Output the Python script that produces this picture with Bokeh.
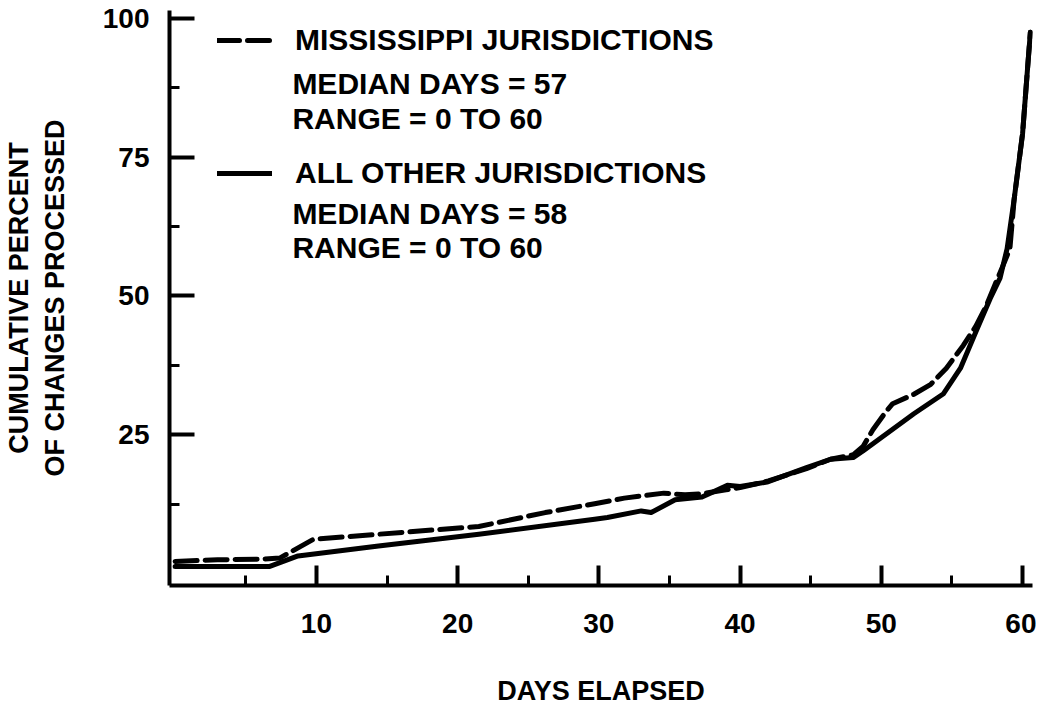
from bokeh.plotting import figure
from bokeh.models import Range1d, FixedTicker, Legend, LegendItem, ColumnDataSource
from bokeh.core.properties import value
from bokeh.embed import file_html
from bokeh.resources import INLINE

# ---- data ----
other_days = [0, 6.7, 8.7, 14.4, 21.5, 29.7, 30.6, 33.0, 33.7, 35.4, 37.3, 39.1, 40.0, 41.9,
              44.7, 46.4, 48.0, 48.7, 52.3, 54.4, 55.6, 56.7, 57.7, 58.4, 58.9, 59.4, 60.0,
              60.35, 60.55]
other_pct = [1.3, 1.3, 3.2, 5.0, 7.1, 9.8, 10.1, 11.3, 11.0, 13.3, 13.8, 15.9, 15.7, 16.5,
             19.1, 20.6, 20.9, 22.1, 28.8, 32.4, 37.0, 43.6, 49.5, 53.2, 58.5, 67.4, 79.3,
             91.0, 97.5]

miss_days = [0, 3, 6, 7.4, 9.8, 14.4, 21.5, 26.2, 29.7, 31.8, 34.6, 36.1, 37.3, 39.0, 40.0,
             42.0, 44.7, 46.4, 48.0, 48.7, 49.4, 50.3, 50.8, 52.3, 53.5, 54.6, 55.8, 56.7,
             57.4, 58.1, 58.7, 59.1, 59.4, 60.0, 60.35, 60.55]
miss_pct = [2.2, 2.5, 2.6, 2.8, 6.2, 7.1, 8.5, 11.0, 12.6, 13.6, 14.5, 14.2, 14.4, 15.1, 15.5,
            16.7, 18.9, 20.6, 21.4, 22.9, 25.9, 29.1, 30.6, 32.3, 34.1, 37.0, 41.1, 44.6,
            48.1, 52.4, 56.0, 58.5, 67.4, 79.3, 91.0, 97.5]

x_ticks = [10, 20, 30, 40, 50, 60]
x_minor = [5, 15, 25, 35, 45, 55]
y_ticks = [25, 50, 75, 100]
y_minor = [12.5, 37.5, 62.5, 87.5]

series_names = ["MISSISSIPPI JURISDICTIONS", "ALL OTHER JURISDICTIONS"]
note_text = ["MEDIAN DAYS = 57", "RANGE = 0 TO 60", "MEDIAN DAYS = 58", "RANGE = 0 TO 60"]
note_x = [8.3, 8.3, 8.3, 8.3]
note_y = [88.3, 82.0, 64.8, 58.8]

FONT = "Liberation Sans"

p = figure(width=1036, height=708,
           x_range=Range1d(-0.4, 60.7), y_range=Range1d(-2.13, 101.4),
           output_backend="svg", toolbar_location=None,
           min_border_left=164, min_border_right=4, min_border_top=10, min_border_bottom=115)

p.grid.visible = False
p.outline_line_color = None
p.background_fill_color = "white"
p.border_fill_color = "white"

r_other = p.line(other_days, other_pct, line_color="black", line_width=5,
                 line_cap="round", line_join="round")
r_miss = p.line(miss_days, miss_pct, line_color="black", line_width=5,
                line_dash="22 8", line_cap="round", line_join="round")

src = ColumnDataSource(dict(x=note_x, y=note_y, t=note_text))
p.text(x="x", y="y", text="t", source=src, text_font=value(FONT),
       text_font_style="bold", text_font_size="30px", text_baseline="middle",
       text_align="left", text_color="black")

legend = Legend(items=[LegendItem(label=series_names[0], renderers=[r_miss]),
                       LegendItem(label=series_names[1], renderers=[r_other])],
                location=(48, 395), padding=0, spacing=99,
                glyph_width=55, glyph_height=34, label_height=34, label_standoff=23,
                label_text_font=FONT, label_text_font_style="bold",
                label_text_font_size="30px", label_text_color="black",
                border_line_alpha=0, background_fill_alpha=0)
p.add_layout(legend)

# axes
xa = p.xaxis[0]
xa.ticker = FixedTicker(ticks=x_ticks, minor_ticks=x_minor)
xa.axis_label = "DAYS ELAPSED"
ya = p.yaxis[0]
ya.ticker = FixedTicker(ticks=y_ticks, minor_ticks=y_minor)
ya.axis_label = "CUMULATIVE PERCENT\nOF CHANGES PROCESSED"

for ax in (xa, ya):
    ax.axis_line_width = 4
    ax.axis_line_color = "black"
    ax.major_tick_line_width = 4
    ax.minor_tick_line_width = 3
    ax.major_tick_line_color = "black"
    ax.minor_tick_line_color = "black"
    ax.major_tick_out = 0
    ax.minor_tick_out = 0
    ax.major_label_text_font = FONT
    ax.major_label_text_font_style = "bold"
    ax.major_label_text_font_size = "28px"
    ax.major_label_text_color = "black"
    ax.axis_label_text_font = FONT
    ax.axis_label_text_font_style = "bold"
    ax.axis_label_text_font_size = "27px"
    ax.axis_label_text_color = "black"

xa.major_tick_in = 20
xa.minor_tick_in = 10
xa.major_label_standoff = 28
xa.axis_label_standoff = 40
ya.major_tick_in = 25
ya.minor_tick_in = 10
ya.major_label_standoff = 20
ya.axis_label_standoff = 30

open("out.html", "w").write(file_html(p, INLINE))
